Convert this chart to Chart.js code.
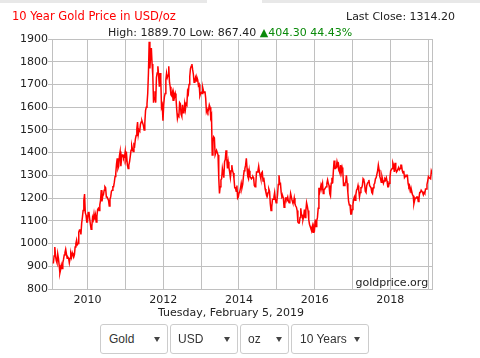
<!DOCTYPE html>
<html><head><meta charset="utf-8">
<script src="https://cdn.jsdelivr.net/npm/chart.js@4/dist/chart.umd.min.js"></script>
<style>
html,body{margin:0;padding:0;background:#fff;width:480px;height:358px;overflow:hidden;font-family:"DejaVu Sans",Verdana,sans-serif;}
#wrap{position:relative;width:480px;height:358px;}
canvas{position:absolute;left:0;top:0;}
.t{position:absolute;white-space:nowrap;font-size:11px;line-height:11px;color:#222;}
.bar{position:absolute;top:0;height:3px;background:#e8e8e8;}
.sel{position:absolute;top:324px;height:30px;border:1px solid #ccc;border-radius:3px;box-sizing:border-box;font-family:"Liberation Sans",Arial,sans-serif;font-size:12px;color:#333;background:#fff;overflow:hidden;}
.sel span{position:absolute;top:7px;line-height:14px;white-space:nowrap;}
.sel i{position:absolute;top:12px;width:0;height:0;border-left:3px solid transparent;border-right:3px solid transparent;border-top:5px solid #444;}
</style></head>
<body><div id="wrap">
<div class="bar" style="left:0;width:207px"></div>
<div class="bar" style="left:262px;width:218px"></div>
<canvas id="c" width="480" height="358"></canvas>
<div class="t" style="left:12px;top:11px;font-size:11.5px;line-height:11.5px;color:#ff0000">10 Year Gold Price in USD/oz</div>
<div class="t" style="left:346px;top:10.5px">Last Close: 1314.20</div>
<div class="t" style="left:108px;top:26.5px">High: 1889.70 Low: 867.40 <span style="color:#0a8a0a">&#9650;404.30 44.43%</span></div>
<div class="t" style="left:158px;top:306.5px">Tuesday, February 5, 2019</div>
<div class="t" style="left:355.5px;top:277px">goldprice.org</div>
<div class="sel" style="left:100px;width:68px"><span style="left:8px">Gold</span><i style="left:53px"></i></div>
<div class="sel" style="left:170px;width:68px"><span style="left:7px">USD</span><i style="left:53px"></i></div>
<div class="sel" style="left:240px;width:49px"><span style="left:7px">oz</span><i style="left:35px"></i></div>
<div class="sel" style="left:291px;width:78px"><span style="left:8px;width:50px;overflow:hidden;display:block">10 Years</span><i style="left:62px"></i></div>
</div>
<script>
// Weekly gold prices (USD/oz), each list starts on the first Thursday-week of February of the named year
const w2009 = [912,945,985,945,925,915,955,935,905,870,885,905,890,915,930,950,960,975,955,935,940,935,915,935,955,940,960,950,940,950,985,1000,1015,995,1000,1050,1060,1060,1040,1090,1115,1145,1190,1218,1135,1125,1095,1095,1135,1140,1110,1085];
const w2010 = [1063,1075,1115,1105,1130,1105,1125,1095,1120,1150,1155,1145,1170,1190,1235,1185,1210,1215,1235,1250,1245,1205,1205,1205,1190,1165,1195,1205,1230,1235,1250,1250,1270,1295,1310,1350,1375,1330,1340,1385,1405,1340,1375,1390,1390,1375,1380,1405,1370,1385,1345,1330];
const w2011 = [1345,1360,1385,1410,1430,1415,1405,1435,1430,1460,1475,1505,1535,1480,1500,1495,1525,1535,1540,1530,1520,1500,1530,1585,1600,1615,1660,1750,1888,1770,1830,1860,1790,1740,1620,1640,1670,1620,1730,1750,1780,1740,1690,1750,1720,1600,1610,1540,1610,1645,1660,1720];
const w2012 = [1750,1730,1740,1780,1710,1690,1655,1650,1665,1630,1660,1645,1660,1640,1590,1550,1565,1560,1620,1615,1570,1560,1610,1575,1580,1615,1590,1615,1610,1670,1660,1700,1735,1770,1780,1790,1765,1745,1710,1715,1730,1715,1730,1720,1695,1700,1650,1660,1665,1660,1685,1670];
const w2013 = [1665,1670,1640,1580,1590,1580,1590,1610,1600,1555,1565,1390,1450,1470,1465,1390,1390,1410,1400,1390,1290,1220,1250,1280,1285,1330,1310,1290,1360,1370,1410,1375,1330,1360,1335,1315,1290,1320,1345,1320,1310,1285,1245,1245,1230,1255,1200,1205,1225,1230,1245,1265];
const w2014 = [1245,1260,1295,1320,1330,1345,1375,1330,1295,1285,1320,1295,1290,1285,1290,1295,1290,1255,1250,1260,1315,1315,1320,1340,1315,1300,1285,1310,1315,1275,1290,1265,1240,1225,1220,1210,1225,1240,1230,1175,1145,1160,1195,1195,1205,1225,1195,1180,1185,1215,1260,1300];
const w2015 = [1265,1265,1225,1205,1210,1200,1160,1170,1200,1200,1195,1205,1185,1180,1190,1220,1205,1190,1180,1180,1200,1175,1165,1160,1145,1095,1090,1090,1115,1155,1125,1125,1105,1120,1150,1115,1145,1180,1165,1145,1105,1085,1075,1065,1055,1075,1050,1075,1065,1105,1075,1100];
const w2016 = [1115,1155,1245,1225,1240,1260,1250,1265,1220,1235,1240,1245,1250,1265,1280,1265,1255,1220,1210,1265,1290,1265,1320,1365,1330,1330,1335,1360,1345,1350,1320,1310,1345,1315,1335,1320,1255,1255,1265,1270,1300,1265,1225,1185,1170,1170,1130,1130,1150,1170,1195,1205];
const w2017 = [1190,1215,1235,1240,1255,1235,1205,1225,1245,1245,1255,1285,1280,1265,1230,1225,1255,1265,1270,1280,1255,1250,1245,1225,1220,1245,1260,1265,1285,1290,1290,1320,1345,1325,1295,1285,1270,1295,1280,1265,1275,1285,1280,1290,1275,1250,1250,1265,1290,1320,1325,1330];
const w2018 = [1355,1345,1315,1355,1325,1315,1320,1320,1335,1325,1330,1345,1345,1320,1310,1320,1290,1295,1300,1300,1300,1265,1250,1255,1245,1225,1230,1215,1210,1175,1190,1200,1200,1205,1205,1185,1200,1225,1225,1235,1235,1225,1215,1225,1220,1240,1240,1260,1275,1295,1290,1290,1285,1320];
const lastCloseDate = [2019, 1, 5];
const lastClose = 1314.2;
const firstDate = [2009, 1, 5];
const yearTicks = [2010,2011,2012,2013,2014,2015,2016,2017,2018,2019];
const yMin = 800, yMax = 1900, yStep = 100;

function decYear(ms){const d=new Date(ms);const y=d.getUTCFullYear();const s=Date.UTC(y,0,1),e=Date.UTC(y+1,0,1);return y+(ms-s)/(e-s);}
const start = Date.UTC(...firstDate);
const weekly = [].concat(w2009,w2010,w2011,w2012,w2013,w2014,w2015,w2016,w2017,w2018);
const points = weekly.map((p,i)=>({x:decYear(start+i*7*864e5),y:p}));
points.push({x:decYear(Date.UTC(...lastCloseDate)),y:lastClose});

Chart.defaults.font.family = '"DejaVu Sans", Verdana, sans-serif';
const gridC = '#c0c0c0';
const frame = {id:'frame',afterDraw(c){const a=c.chartArea,x=c.ctx;x.save();x.strokeStyle=gridC;x.lineWidth=1;x.beginPath();x.moveTo(Math.round(a.right)+0.5,a.top);x.lineTo(Math.round(a.right)+0.5,a.bottom);x.stroke();x.restore();}};
new Chart(document.getElementById('c'),{
  type:'line',
  data:{datasets:[{data:points,borderColor:'#ff0000',borderWidth:1.5,pointRadius:0,tension:0,fill:false}]},
  options:{
    responsive:false,animation:false,devicePixelRatio:1,
    layout:{padding:{left:0,top:39,right:48,bottom:47}},
    plugins:{legend:{display:false},tooltip:{enabled:false}},
    scales:{
      x:{type:'linear',min:2009.06,max:2019.10,
        afterBuildTicks:s=>{s.ticks=yearTicks.map(v=>({value:v}));},
        afterFit:s=>{s.height=22;},
        grid:{color:gridC,drawTicks:false},border:{color:gridC},
        ticks:{color:'#222',font:{size:11},padding:5,maxRotation:0,autoSkip:false,callback:v=>(v%2===0?String(v):'')}},
      y:{min:yMin,max:yMax,
        afterFit:s=>{s.width=52;},
        grid:{color:gridC,tickLength:4},border:{color:gridC},
        ticks:{stepSize:yStep,color:'#222',font:{size:11},padding:0,callback:v=>String(v)}}
    }
  },
  plugins:[frame]
});
</script>
</body></html>
